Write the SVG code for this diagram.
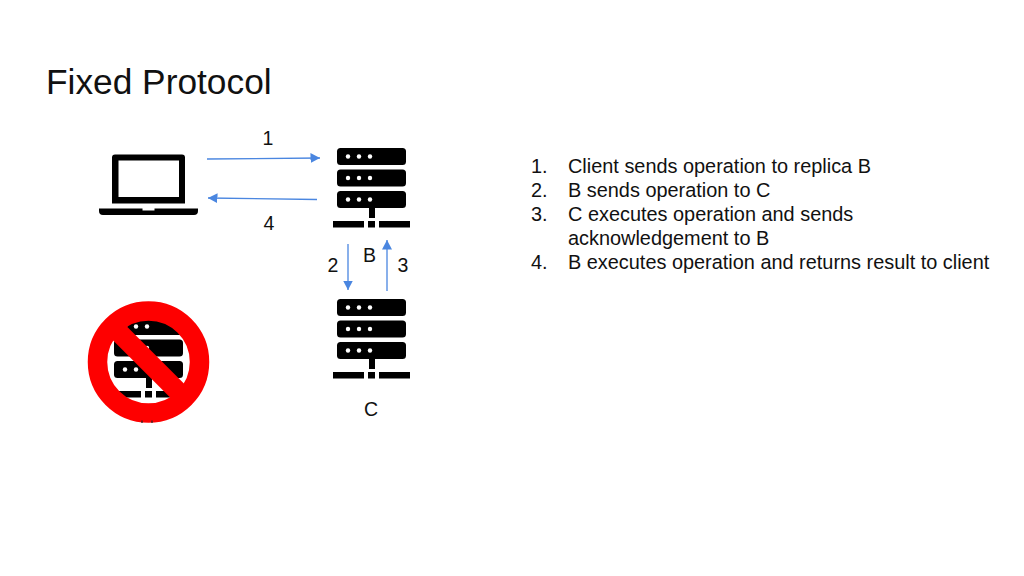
<svg xmlns="http://www.w3.org/2000/svg" width="1024" height="576" viewBox="0 0 1024 576">
<style>
text{font-family:"Liberation Sans",Arial,sans-serif;fill:#111}
.lbl{font-size:19.5px;text-anchor:middle}
.li{font-size:19.9px}
.c{stroke:#4a86e0;stroke-width:1.3;fill:none;marker-end:url(#ah)}
</style>
<defs>
<marker id="ah" markerUnits="userSpaceOnUse" markerWidth="11" markerHeight="11" refX="9.500" refY="5.500" orient="auto"><path d="M0 0.500L9.500 5.500L0 10.500Z" fill="#4a86e0"/></marker>
<g id="srv">
<rect x="337" y="148" width="69" height="17" rx="3.500"/>
<rect x="337" y="169.500" width="69" height="17" rx="3.500"/>
<rect x="337" y="191" width="69" height="17" rx="3.500"/>
<rect x="369" y="207" width="6" height="11"/>
<rect x="333" y="221" width="31" height="6.500"/>
<rect x="368" y="221" width="7" height="6.500"/>
<rect x="379" y="221" width="31" height="6.500"/>
<g fill="#fff"><circle cx="348" cy="156.500" r="2.200"/><circle cx="359" cy="156.500" r="2.200"/><circle cx="370" cy="156.500" r="2.200"/><circle cx="348" cy="178" r="2.200"/><circle cx="359" cy="178" r="2.200"/><circle cx="370" cy="178" r="2.200"/><circle cx="348" cy="199.500" r="2.200"/><circle cx="359" cy="199.500" r="2.200"/><circle cx="370" cy="199.500" r="2.200"/></g>
</g>
<clipPath id="cp"><circle cx="148.500" cy="362" r="50"/></clipPath>
</defs>
<rect width="1024" height="576" fill="#fff"/>
<text id="title" x="46" y="94" font-size="35.300">Fixed Protocol</text>
<g id="client">
<path fill-rule="evenodd" d="M115 154.500H182a3 3 0 0 1 3 3V203.500H112V157.500a3 3 0 0 1 3-3ZM118.500 160.500V197H179V160.500Z"/>
<path d="M99 208.500H142.500V210.500H154.500V208.500H198V211a4 4 0 0 1-4 4H103a4 4 0 0 1-4-4Z"/>
</g>
<g id="replica-b"><use href="#srv"/><text class="lbl" x="369.500" y="262">B</text></g>
<g id="replica-c"><use href="#srv" y="151"/><text class="lbl" x="371" y="415.500">C</text></g>
<g id="replica-a">
<g clip-path="url(#cp)"><use href="#srv" x="-223" y="170"/></g>
<circle cx="148.500" cy="362" r="51" fill="none" stroke="#fe0000" stroke-width="19.500"/>
<path d="M112.500 326L184.500 398" stroke="#fe0000" stroke-width="19.500"/>
<path d="M142 420.500V423M152 420.500V423" stroke="#222" stroke-width="1.200"/>
</g>
<g id="connectors">
<path class="c" d="M207 159L320 158"/>
<path class="c" d="M317 199.500L208 198"/>
<path class="c" d="M348 244V290"/>
<path class="c" d="M387 291V240"/>
</g>
<g id="labels">
<text class="lbl" x="268" y="145">1</text>
<text class="lbl" x="269" y="230">4</text>
<text class="lbl" x="333" y="272">2</text>
<text class="lbl" x="403" y="271.500">3</text>
</g>
<g id="list">
<text class="li" x="531" y="173">1.</text><text class="li" x="568" y="173">Client sends operation to replica B</text>
<text class="li" x="531" y="197">2.</text><text class="li" x="568" y="197">B sends operation to C</text>
<text class="li" x="531" y="221">3.</text><text class="li" x="568" y="221">C executes operation and sends</text>
<text class="li" x="568" y="245">acknowledgement to B</text>
<text class="li" x="531" y="268.500">4.</text><text class="li" x="568" y="268.500">B executes operation and returns result to client</text>
</g>
</svg>
